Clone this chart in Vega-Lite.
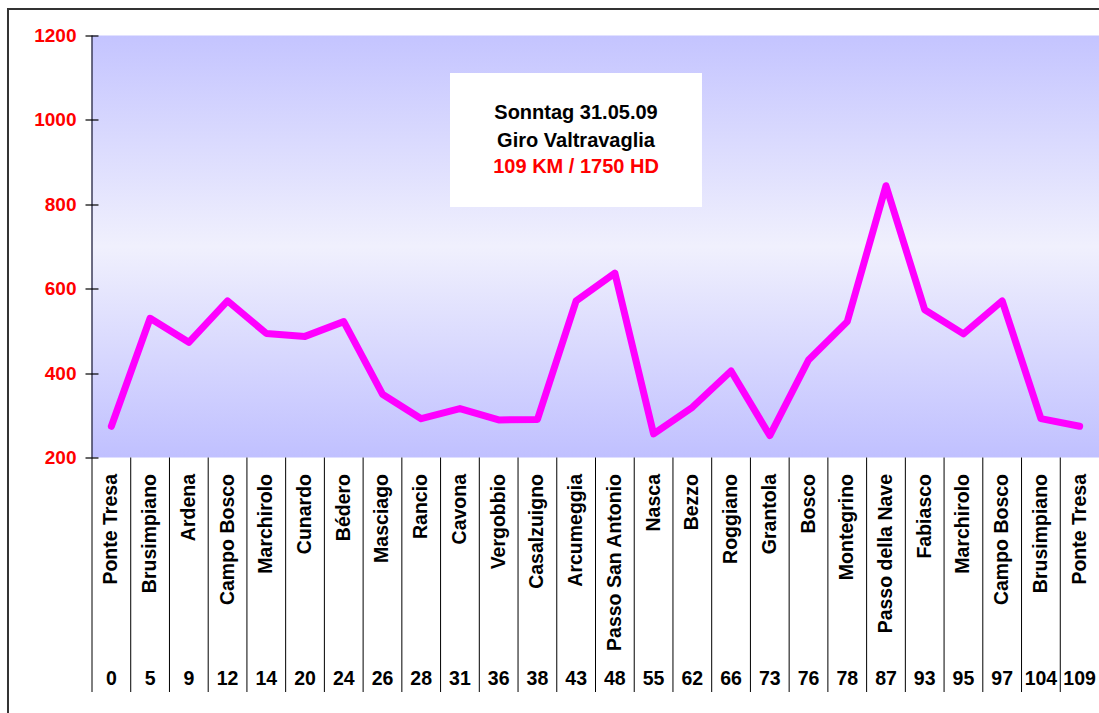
{
  "$schema": "https://vega.github.io/schema/vega-lite/v6.json",
  "width": 1007,
  "height": 422,
  "autosize": {"type": "none"},
  "padding": {"left": 92, "top": 35.5, "right": 0, "bottom": 255.5},
  "background": "#ffffff",
  "config": {"view": {"stroke": null}, "font": "Liberation Sans"},
  "datasets": {
    "stops": [
      {"km": 0, "name": "Ponte Tresa", "elev": 274},
      {"km": 5, "name": "Brusimpiano", "elev": 530},
      {"km": 9, "name": "Ardena", "elev": 473},
      {"km": 12, "name": "Campo Bosco", "elev": 571},
      {"km": 14, "name": "Marchirolo", "elev": 494},
      {"km": 20, "name": "Cunardo", "elev": 487},
      {"km": 24, "name": "Bédero", "elev": 522},
      {"km": 26, "name": "Masciago", "elev": 350},
      {"km": 28, "name": "Rancio", "elev": 292},
      {"km": 31, "name": "Cavona", "elev": 316},
      {"km": 36, "name": "Vergobbio", "elev": 289},
      {"km": 38, "name": "Casalzuigno", "elev": 290},
      {"km": 43, "name": "Arcumeggia", "elev": 571},
      {"km": 48, "name": "Passo San Antonio", "elev": 637},
      {"km": 55, "name": "Nasca", "elev": 256},
      {"km": 62, "name": "Bezzo", "elev": 319},
      {"km": 66, "name": "Roggiano", "elev": 405},
      {"km": 73, "name": "Grantola", "elev": 252},
      {"km": 76, "name": "Bosco", "elev": 431},
      {"km": 78, "name": "Montegrino", "elev": 522},
      {"km": 87, "name": "Passo della Nave", "elev": 844},
      {"km": 93, "name": "Fabiasco", "elev": 550},
      {"km": 95, "name": "Marchirolo", "elev": 493},
      {"km": 97, "name": "Campo Bosco", "elev": 571},
      {"km": 104, "name": "Brusimpiano", "elev": 292},
      {"km": 109, "name": "Ponte Tresa", "elev": 274}
    ]
  },
  "data": {"name": "stops"},
  "resolve": {"axis": {"y": "independent"}},
  "layer": [
    {
      "data": {"values": [{}]},
      "mark": {"type": "rect", "fill": null, "stroke": "#333333", "strokeWidth": 2},
      "encoding": {
        "x": {"datum": 0, "type": "ordinal", "bandPosition": -2.169, "scale": {"type": "band", "paddingInner": 0, "paddingOuter": 0}, "axis": null},
        "x2": {"datum": 109, "bandPosition": 3},
        "y": {"datum": 1262.8, "type": "quantitative", "scale": {"domain": [200, 1200], "nice": false, "zero": false}, "axis": null},
        "y2": {"datum": -600}
      }
    },
    {
      "data": {"values": [{}]},
      "mark": {
        "type": "rect",
        "fill": {
          "gradient": "linear", "x1": 0, "y1": 0, "x2": 0, "y2": 1,
          "stops": [
            {"offset": 0, "color": "#c4c4ff"},
            {"offset": 0.5, "color": "#f0f0fd"},
            {"offset": 1, "color": "#c0c0ff"}
          ]
        }
      },
      "encoding": {
        "y": {
          "datum": 1200, "type": "quantitative",
          "scale": {"domain": [200, 1200], "nice": false, "zero": false},
          "axis": {
            "orient": "left", "title": null, "grid": false, "zindex": 1, "domain": false, "offset": -6,
            "values": [200, 400, 600, 800, 1000, 1200], "format": "d",
            "labelColor": "#ff0000", "labelFont": "Liberation Sans", "labelFontWeight": "bold", "labelFontSize": 19,
            "labelPadding": 9, "labelBaseline": "middle",
            "tickSize": 13, "tickColor": "#000000", "tickWidth": 1.2
          }
        },
        "y2": {"datum": 200}
      }
    },
    {
      "data": {"values": [{}]},
      "mark": {"type": "rule", "color": "#3c3c58", "strokeWidth": 1.5},
      "encoding": {
        "x": {"datum": 0, "type": "ordinal", "bandPosition": 0, "scale": {"type": "band", "paddingInner": 0, "paddingOuter": 0}, "axis": null},
        "y": {"datum": 1200, "type": "quantitative", "scale": {"domain": [200, 1200], "nice": false, "zero": false}, "axis": null},
        "y2": {"datum": 200}
      }
    },
    {
      "mark": {"type": "rule", "color": "#000000", "strokeWidth": 1},
      "encoding": {
        "x": {"field": "km", "type": "ordinal", "bandPosition": 0, "scale": {"type": "band", "paddingInner": 0, "paddingOuter": 0}, "axis": null},
        "y": {"datum": 200, "type": "quantitative", "scale": {"domain": [200, 1200], "nice": false, "zero": false}, "axis": null},
        "y2": {"datum": -355.7}
      }
    },
    {
      "mark": {"type": "line", "color": "#ff00ff", "strokeWidth": 7, "strokeCap": "round", "strokeJoin": "round"},
      "encoding": {
        "x": {
          "field": "km", "type": "ordinal", "bandPosition": 0.5,
          "scale": {"type": "band", "paddingInner": 0, "paddingOuter": 0},
          "axis": {
            "orient": "bottom", "title": null, "grid": false, "zindex": 1, "labels": false,
            "tickSize": 6, "tickColor": "#000000", "tickWidth": 1,
            "domainColor": "#000000", "domainWidth": 1.5
          }
        },
        "y": {"field": "elev", "type": "quantitative", "scale": {"domain": [200, 1200], "nice": false, "zero": false}, "axis": null}
      }
    },
    {
      "mark": {"type": "text", "angle": 270, "align": "right", "baseline": "middle", "font": "Liberation Sans", "fontWeight": "bold", "fontSize": 19.5, "color": "#000000"},
      "encoding": {
        "x": {"field": "km", "type": "ordinal", "bandPosition": 0.5, "scale": {"type": "band", "paddingInner": 0, "paddingOuter": 0}, "axis": null},
        "y": {"datum": 160.9, "type": "quantitative", "scale": {"domain": [200, 1200], "nice": false, "zero": false}, "axis": null},
        "text": {"field": "name"}
      }
    },
    {
      "mark": {"type": "text", "align": "center", "baseline": "middle", "font": "Liberation Sans", "fontWeight": "bold", "fontSize": 19.5, "color": "#000000"},
      "encoding": {
        "x": {"field": "km", "type": "ordinal", "bandPosition": 0.5, "scale": {"type": "band", "paddingInner": 0, "paddingOuter": 0}, "axis": null},
        "y": {"datum": -324.9, "type": "quantitative", "scale": {"domain": [200, 1200], "nice": false, "zero": false}, "axis": null},
        "text": {"field": "km"}
      }
    },
    {
      "data": {"values": [{}]},
      "mark": {"type": "rect", "fill": "#ffffff"},
      "encoding": {
        "x": {"datum": 31, "type": "ordinal", "bandPosition": 0.243, "scale": {"type": "band", "paddingInner": 0, "paddingOuter": 0}, "axis": null},
        "x2": {"datum": 62, "bandPosition": 0.749},
        "y": {"datum": 1111.1, "type": "quantitative", "scale": {"domain": [200, 1200], "nice": false, "zero": false}, "axis": null},
        "y2": {"datum": 793.6}
      }
    },
    {
      "data": {"values": [{}]},
      "mark": {"type": "text", "text": "Sonntag 31.05.09", "font": "Liberation Sans", "fontWeight": "bold", "fontSize": 20, "color": "#000000", "align": "center", "baseline": "middle"},
      "encoding": {
        "x": {"datum": 43, "type": "ordinal", "bandPosition": 0.497, "scale": {"type": "band", "paddingInner": 0, "paddingOuter": 0}, "axis": null},
        "y": {"datum": 1015.2, "type": "quantitative", "scale": {"domain": [200, 1200], "nice": false, "zero": false}, "axis": null}
      }
    },
    {
      "data": {"values": [{}]},
      "mark": {"type": "text", "text": "Giro Valtravaglia", "font": "Liberation Sans", "fontWeight": "bold", "fontSize": 20, "color": "#000000", "align": "center", "baseline": "middle"},
      "encoding": {
        "x": {"datum": 43, "type": "ordinal", "bandPosition": 0.497, "scale": {"type": "band", "paddingInner": 0, "paddingOuter": 0}, "axis": null},
        "y": {"datum": 950, "type": "quantitative", "scale": {"domain": [200, 1200], "nice": false, "zero": false}, "axis": null}
      }
    },
    {
      "data": {"values": [{}]},
      "mark": {"type": "text", "text": "109 KM / 1750 HD", "font": "Liberation Sans", "fontWeight": "bold", "fontSize": 20, "color": "#ff0000", "align": "center", "baseline": "middle"},
      "encoding": {
        "x": {"datum": 43, "type": "ordinal", "bandPosition": 0.497, "scale": {"type": "band", "paddingInner": 0, "paddingOuter": 0}, "axis": null},
        "y": {"datum": 887.7, "type": "quantitative", "scale": {"domain": [200, 1200], "nice": false, "zero": false}, "axis": null}
      }
    }
  ]
}
